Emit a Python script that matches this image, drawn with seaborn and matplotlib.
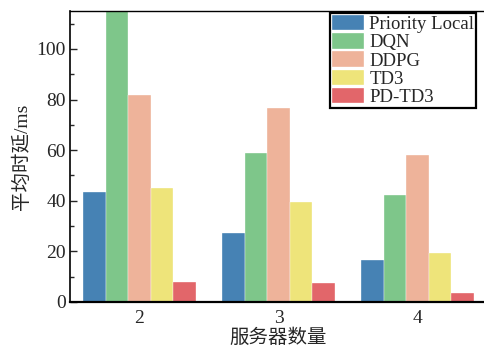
import matplotlib
matplotlib.use("Agg")
import matplotlib.pyplot as plt
import pandas as pd
import seaborn as sns
from matplotlib.ticker import MultipleLocator

servers = ["2", "3", "4"]
methods = ["Priority Local", "DQN", "DDPG", "TD3", "PD-TD3"]
delay = {
    "Priority Local": [43.4, 27.1, 16.6],
    "DQN": [121.0, 59.0, 42.1],
    "DDPG": [82.0, 76.8, 57.9],
    "TD3": [45.0, 39.7, 19.5],
    "PD-TD3": [7.8, 7.5, 3.7],
}
colors = ["#4682b4", "#7ec68a", "#eeb39a", "#eee47a", "#e2666a"]

rows = []
for m in methods:
    for s, v in zip(servers, delay[m]):
        rows.append({"servers": s, "method": m, "delay": v})
df = pd.DataFrame(rows)

sns.set_style("ticks")
plt.rcParams["font.family"] = ["Liberation Serif", "Noto Sans CJK SC"]

fig = plt.figure(figsize=(4.85, 3.51), dpi=100)
ax = fig.add_axes([70 / 485, 1 - 302 / 351, 417 / 485, 291 / 351])

sns.barplot(data=df, x="servers", y="delay", hue="method", order=servers,
            hue_order=methods, palette=colors, width=0.81, saturation=1,
            edgecolor="white", linewidth=0.25, ax=ax)

ax.set_xlim(-0.5, 2.5)
ax.set_ylim(0, 115)
ax.yaxis.set_major_locator(MultipleLocator(20))
ax.yaxis.set_minor_locator(MultipleLocator(10))
ax.tick_params(axis="y", which="major", direction="in", length=5, width=1, labelsize=14, pad=3)
ax.tick_params(axis="y", which="minor", direction="in", length=3, width=1)
ax.tick_params(axis="x", length=0, labelsize=14, pad=6)

ax.spines["left"].set_linewidth(1.2)
ax.spines["bottom"].set_linewidth(1.6)
ax.spines["top"].set_linewidth(1.0)
ax.spines["right"].set_visible(False)
for s in ["left", "bottom", "top"]:
    ax.spines[s].set_color("black")

ax.set_xlabel("服务器数量", fontsize=14, labelpad=1)
ax.set_ylabel("平均时延/ms", fontsize=14, labelpad=4)

handles, labels = ax.get_legend_handles_labels()
ax.legend(handles, labels, loc="upper right", bbox_to_anchor=(408 / 417, 1.0),
          fontsize=13.5, frameon=True, fancybox=False, edgecolor="black",
          framealpha=1, handlelength=1.7, handleheight=0.9, labelspacing=0.0,
          handletextpad=0.3, borderpad=0.1, borderaxespad=0.1)
ax.get_legend().get_frame().set_linewidth(1.6)

fig.savefig("out.png", dpi=100)
